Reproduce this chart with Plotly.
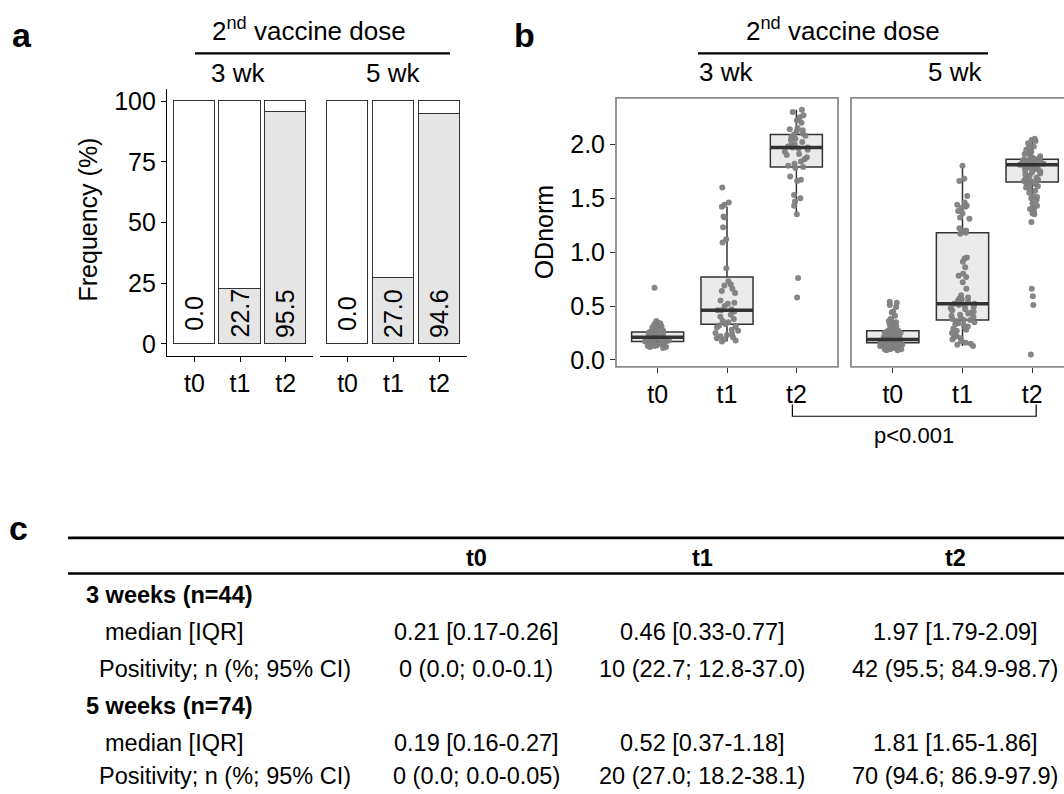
import plotly.graph_objects as go

W, H = 1064, 794
FONT = "Liberation Sans, Arial, sans-serif"

# ---------------- data ----------------
categories = ["t0", "t1", "t2"]
facets = ["3 wk", "5 wk"]

# panel a: positivity (%)
pos_3wk = [0.0, 22.7, 95.5]
pos_5wk = [0.0, 27.0, 94.6]

# panel b: box statistics (ODnorm)
q1_3wk = [0.17, 0.33, 1.79]
med_3wk = [0.21, 0.46, 1.97]
q3_3wk = [0.26, 0.77, 2.09]
lo_3wk = [0.11, 0.17, 1.35]
hi_3wk = [0.33, 1.42, 2.32]

q1_5wk = [0.16, 0.37, 1.65]
med_5wk = [0.19, 0.52, 1.81]
q3_5wk = [0.27, 1.18, 1.86]
lo_5wk = [0.09, 0.13, 1.35]
hi_5wk = [0.41, 1.80, 2.03]

# panel b: individual values
pts_3wk_t0 = [0.67, 0.36, 0.35, 0.34, 0.33, 0.33, 0.32, 0.31, 0.30, 0.29,
              0.28, 0.27, 0.26, 0.26, 0.25, 0.25, 0.24, 0.23, 0.22, 0.22,
              0.21, 0.21, 0.21, 0.20, 0.20, 0.19, 0.19, 0.18, 0.18, 0.18,
              0.17, 0.17, 0.17, 0.16, 0.16, 0.15, 0.15, 0.14, 0.14, 0.13,
              0.13, 0.12, 0.12, 0.11]
pts_3wk_t1 = [1.60, 1.46, 1.44, 1.42, 1.33, 1.32, 1.23, 1.12, 1.09, 0.85,
              0.73, 0.70, 0.69, 0.66, 0.64, 0.62, 0.55, 0.53, 0.52, 0.50,
              0.47, 0.46, 0.46, 0.45, 0.42, 0.40, 0.38, 0.36, 0.35, 0.33,
              0.32, 0.31, 0.30, 0.28, 0.27, 0.25, 0.24, 0.23, 0.22, 0.21,
              0.20, 0.19, 0.18, 0.17]
pts_3wk_t2 = [2.32, 2.30, 2.27, 2.25, 2.22, 2.20, 2.15, 2.14, 2.13, 2.12,
              2.10, 2.09, 2.08, 2.07, 2.05, 2.04, 2.02, 2.00, 1.99, 1.98,
              1.97, 1.97, 1.96, 1.95, 1.93, 1.91, 1.90, 1.88, 1.86, 1.84,
              1.82, 1.80, 1.79, 1.78, 1.70, 1.67, 1.66, 1.53, 1.50, 1.47,
              1.43, 1.35, 0.76, 0.58]
pts_5wk_t0 = [0.54, 0.53, 0.51, 0.49, 0.45, 0.44, 0.41, 0.38, 0.36, 0.35,
              0.34, 0.33, 0.31, 0.30, 0.29, 0.28, 0.27, 0.27, 0.26, 0.26,
              0.25, 0.25, 0.24, 0.24, 0.23, 0.23, 0.22, 0.22, 0.21, 0.21,
              0.21, 0.20, 0.20, 0.20, 0.19, 0.19, 0.19, 0.19, 0.18, 0.18,
              0.18, 0.18, 0.17, 0.17, 0.17, 0.17, 0.16, 0.16, 0.16, 0.16,
              0.16, 0.15, 0.15, 0.15, 0.15, 0.14, 0.14, 0.14, 0.14, 0.13,
              0.13, 0.13, 0.13, 0.12, 0.12, 0.12, 0.11, 0.11, 0.11, 0.10,
              0.10, 0.10, 0.09, 0.09]
pts_5wk_t1 = [1.80, 1.68, 1.66, 1.52, 1.46, 1.44, 1.43, 1.42, 1.41, 1.38,
              1.36, 1.32, 1.31, 1.22, 1.20, 1.19, 1.18, 1.17, 0.95, 0.94,
              0.91, 0.86, 0.80, 0.78, 0.77, 0.72, 0.66, 0.60, 0.58, 0.57,
              0.56, 0.55, 0.54, 0.53, 0.53, 0.52, 0.52, 0.51, 0.50, 0.49,
              0.48, 0.47, 0.46, 0.45, 0.44, 0.43, 0.42, 0.41, 0.40, 0.39,
              0.38, 0.37, 0.37, 0.36, 0.35, 0.34, 0.33, 0.32, 0.31, 0.30,
              0.29, 0.28, 0.27, 0.25, 0.24, 0.22, 0.21, 0.20, 0.19, 0.17,
              0.16, 0.15, 0.14, 0.13]
pts_5wk_t2 = [2.05, 2.04, 2.03, 2.01, 1.98, 1.97, 1.95, 1.93, 1.92, 1.91,
              1.90, 1.89, 1.88, 1.87, 1.87, 1.86, 1.86, 1.85, 1.85, 1.84,
              1.84, 1.83, 1.83, 1.82, 1.82, 1.82, 1.81, 1.81, 1.81, 1.80,
              1.80, 1.79, 1.79, 1.78, 1.78, 1.77, 1.76, 1.75, 1.74, 1.73,
              1.72, 1.71, 1.70, 1.69, 1.68, 1.67, 1.66, 1.66, 1.65, 1.65,
              1.64, 1.63, 1.62, 1.60, 1.59, 1.57, 1.55, 1.52, 1.51, 1.50,
              1.48, 1.45, 1.43, 1.41, 1.40, 1.38, 1.36, 1.35, 1.28, 0.66,
              0.59, 0.51, 0.05, 1.61]

p_value_text = "p<0.001"

# panel c: table
table_cols = ["t0", "t1", "t2"]
table_groups = ["3 weeks (n=44)", "5 weeks (n=74)"]
row_labels = ["median [IQR]", "Positivity; n (%; 95% CI)"]
median_iqr_3wk = ["0.21 [0.17-0.26]", "0.46 [0.33-0.77]", "1.97 [1.79-2.09]"]
positivity_3wk = ["0 (0.0; 0.0-0.1)", "10 (22.7; 12.8-37.0)", "42 (95.5; 84.9-98.7)"]
median_iqr_5wk = ["0.19 [0.16-0.27]", "0.52 [0.37-1.18]", "1.81 [1.65-1.86]"]
positivity_5wk = ["0 (0.0; 0.0-0.05)", "20 (27.0; 18.2-38.1)", "70 (94.6; 86.9-97.9)"]


# ---------------- helpers ----------------
def px(x):
    return x / W


def py(y):
    return 1 - y / H


idx = list(range(len(categories)))
XR = [-0.6, 2.6]

fig = go.Figure()

# ---------------- panel a ----------------
GRAY_FILL = "#e5e5e5"
for xa, vals in (("x", pos_3wk), ("x2", pos_5wk)):
    fig.add_trace(go.Bar(x=idx, y=vals, width=0.9, xaxis=xa, yaxis="y",
                         marker=dict(color=GRAY_FILL, line=dict(color="#333333", width=1)),
                         showlegend=False, hoverinfo="skip"))
    fig.add_trace(go.Bar(x=idx, y=[100 - v for v in vals], width=0.9, xaxis=xa, yaxis="y",
                         marker=dict(color="white", line=dict(color="#333333", width=1)),
                         showlegend=False, hoverinfo="skip"))
    for i, v in zip(idx, vals):
        fig.add_annotation(x=i, y=12.5, xref=xa, yref="y", text=f"{v:.1f}",
                           textangle=-90, showarrow=False, xanchor="center", yanchor="middle",
                           font=dict(size=25, color="black", family=FONT))

# ---------------- panel b ----------------
BOX_W = 0.75
box_sets = [("x3", q1_3wk, med_3wk, q3_3wk, lo_3wk, hi_3wk, [pts_3wk_t0, pts_3wk_t1, pts_3wk_t2]),
            ("x4", q1_5wk, med_5wk, q3_5wk, lo_5wk, hi_5wk, [pts_5wk_t0, pts_5wk_t1, pts_5wk_t2])]
for xa, q1, med, q3, lo, hi, pts in box_sets:
    fig.add_trace(go.Box(x=idx, q1=q1, median=med, q3=q3, lowerfence=lo, upperfence=hi,
                         width=BOX_W, whiskerwidth=0, boxpoints=False,
                         fillcolor="#ebebeb", line=dict(color="#333333", width=1.5),
                         xaxis=xa, yaxis="y2", showlegend=False, hoverinfo="skip"))
    mx, my = [], []
    for i, m in zip(idx, med):
        mx += [i - BOX_W / 2, i + BOX_W / 2, None]
        my += [m, m, None]
    fig.add_trace(go.Scatter(x=mx, y=my, mode="lines", line=dict(color="#333333", width=3.5),
                             xaxis=xa, yaxis="y2", showlegend=False, hoverinfo="skip"))
    xs, ys = [], []
    for i, p in zip(idx, pts):
        xs += [i] * len(p)
        ys += p
    fig.add_trace(go.Box(x=xs, y=ys, width=BOX_W, boxpoints="all", jitter=0.5, pointpos=0,
                         fillcolor="rgba(0,0,0,0)", line=dict(color="rgba(0,0,0,0)", width=0),
                         marker=dict(color="#808080", size=6, opacity=0.95),
                         xaxis=xa, yaxis="y2", showlegend=False, hoverinfo="skip"))

# ---------------- axes ----------------
tickfont = dict(size=25, color="black", family=FONT)
common_x = dict(range=XR, tickmode="array", tickvals=idx, ticktext=categories,
                showgrid=False, zeroline=False, ticks="outside", ticklen=5, tickwidth=1,
                tickfont=tickfont, fixedrange=True)

ya_dom = [py(358), py(88)]
yb_dom = [py(369), py(97)]
xb2_right = 2.6 - (1074 - 1064) / ((1074 - 851) / 3.2)

fig.update_layout(
    width=W, height=H, autosize=False,
    margin=dict(l=0, r=0, t=0, b=0),
    paper_bgcolor="white", plot_bgcolor="rgba(0,0,0,0)",
    barmode="stack", boxmode="overlay", bargap=0,
    font=dict(family=FONT, color="black"),
    xaxis=dict(domain=[px(167), px(313)], anchor="y", showline=True, linecolor="black",
               linewidth=1.2, tickcolor="black", **common_x),
    xaxis2=dict(domain=[px(320), px(467)], anchor="y", showline=True, linecolor="black",
                linewidth=1.2, tickcolor="black", **common_x),
    yaxis=dict(domain=ya_dom, anchor="x", range=[-5, 105], tickvals=[0, 25, 50, 75, 100],
               showline=True, linecolor="black", linewidth=1.2, ticks="outside", ticklen=5,
               tickcolor="black", showgrid=False, zeroline=False, tickfont=tickfont,
               fixedrange=True),
    xaxis3=dict(domain=[px(616), px(838)], anchor="y2", showline=False, tickcolor="#333333",
                **common_x),
    xaxis4=dict(domain=[px(851), 1.0], anchor="y2", showline=False, tickcolor="#333333",
                **{**common_x, "range": [XR[0], xb2_right]}),
    yaxis2=dict(domain=yb_dom, anchor="x3", range=[-0.064, 2.43],
                tickvals=[0, 0.5, 1.0, 1.5, 2.0], ticktext=["0.0", "0.5", "1.0", "1.5", "2.0"],
                showline=False, ticks="outside", ticklen=5, tickwidth=1, tickcolor="#333333",
                showgrid=False, zeroline=False, tickfont=tickfont, fixedrange=True),
)

# panel b borders
BORDER = dict(color="#8c8c8c", width=1.8)
fig.add_shape(type="rect", xref="x3 domain", yref="y2 domain", x0=0, x1=1, y0=0, y1=1,
              line=BORDER, layer="above")
fig.add_shape(type="rect", xref="x4 domain", yref="y2 domain", x0=0, x1=1.08, y0=0, y1=1,
              line=BORDER, layer="above")


# ---------------- titles / headers ----------------
def text(x, y, s, size=25, bold=False, xanchor="center", angle=0):
    fig.add_annotation(x=px(x), y=py(y), xref="paper", yref="paper",
                       text=f"<b>{s}</b>" if bold else s, showarrow=False,
                       xanchor=xanchor, yanchor="middle", textangle=angle,
                       font=dict(size=size, color="black", family=FONT))


def hline(x0, x1, y, width=2.2, color="black"):
    fig.add_shape(type="line", xref="paper", yref="paper", x0=px(x0), x1=px(x1),
                  y0=py(y), y1=py(y), line=dict(color=color, width=width))


# panel letters
text(22, 33, "a", size=34, bold=True)
text(524, 33, "b", size=34, bold=True)
text(18, 532, "c", size=34, bold=True)

# panel a header
text(309, 28, "2<sup>nd</sup> vaccine dose", size=26)
hline(195, 450, 52)
text(238, 72, facets[0], size=26)
text(393, 72, facets[1], size=26)
text(88, 220, "Frequency (%)", size=25, angle=-90)

# panel b header
text(843, 28, "2<sup>nd</sup> vaccine dose", size=26)
hline(698, 988, 52)
text(697, 71, facets[0], size=26, xanchor="left")
text(984, 71, facets[1], size=26, xanchor="right")
text(544, 233, "ODnorm", size=25, angle=-90)


# bracket between t2 groups
def xpos(dom, rng, v):
    return dom[0] + (v - rng[0]) / (rng[1] - rng[0]) * (dom[1] - dom[0])


bx0 = xpos([616, 838], XR, 2) - 4
bx1 = xpos([851, 1064], [XR[0], xb2_right], 2) + 4
fig.add_shape(type="path", xref="paper", yref="paper",
              path=f"M {px(bx0)},{py(407)} L {px(bx0)},{py(419)} L {px(bx1)},{py(419)} L {px(bx1)},{py(407)}",
              line=dict(color="black", width=1.2))
text((bx0 + bx1) / 2, 438, p_value_text, size=22)

# ---------------- panel c: table ----------------
hline(68, 1064, 542, width=2.6)
hline(68, 1064, 578, width=2.6)
col_x = [476, 702, 955]
for cx, c in zip(col_x, table_cols):
    text(cx, 562, c, size=23.5, bold=True)

rows_y = [600, 637, 675, 712, 749, 783]
blocks = [(table_groups[0], median_iqr_3wk, positivity_3wk),
          (table_groups[1], median_iqr_5wk, positivity_5wk)]
for b, (g, med_txt, pos_txt) in enumerate(blocks):
    y0, y1, y2 = rows_y[3 * b], rows_y[3 * b + 1], rows_y[3 * b + 2]
    text(84, y0, g, size=23.5, bold=True, xanchor="left")
    text(103, y1, row_labels[0], size=23.5, xanchor="left")
    text(97, y2, row_labels[1], size=23.5, xanchor="left")
    for cx, m, p in zip(col_x, med_txt, pos_txt):
        text(cx, y1, m, size=23.5)
        text(cx, y2, p, size=23.5)

# remove the default page margin so the figure sits at the page origin
fig.write_html("out.html", config={"displayModeBar": False},
               post_script="document.body.style.margin='0px';document.body.style.overflow='hidden';")
